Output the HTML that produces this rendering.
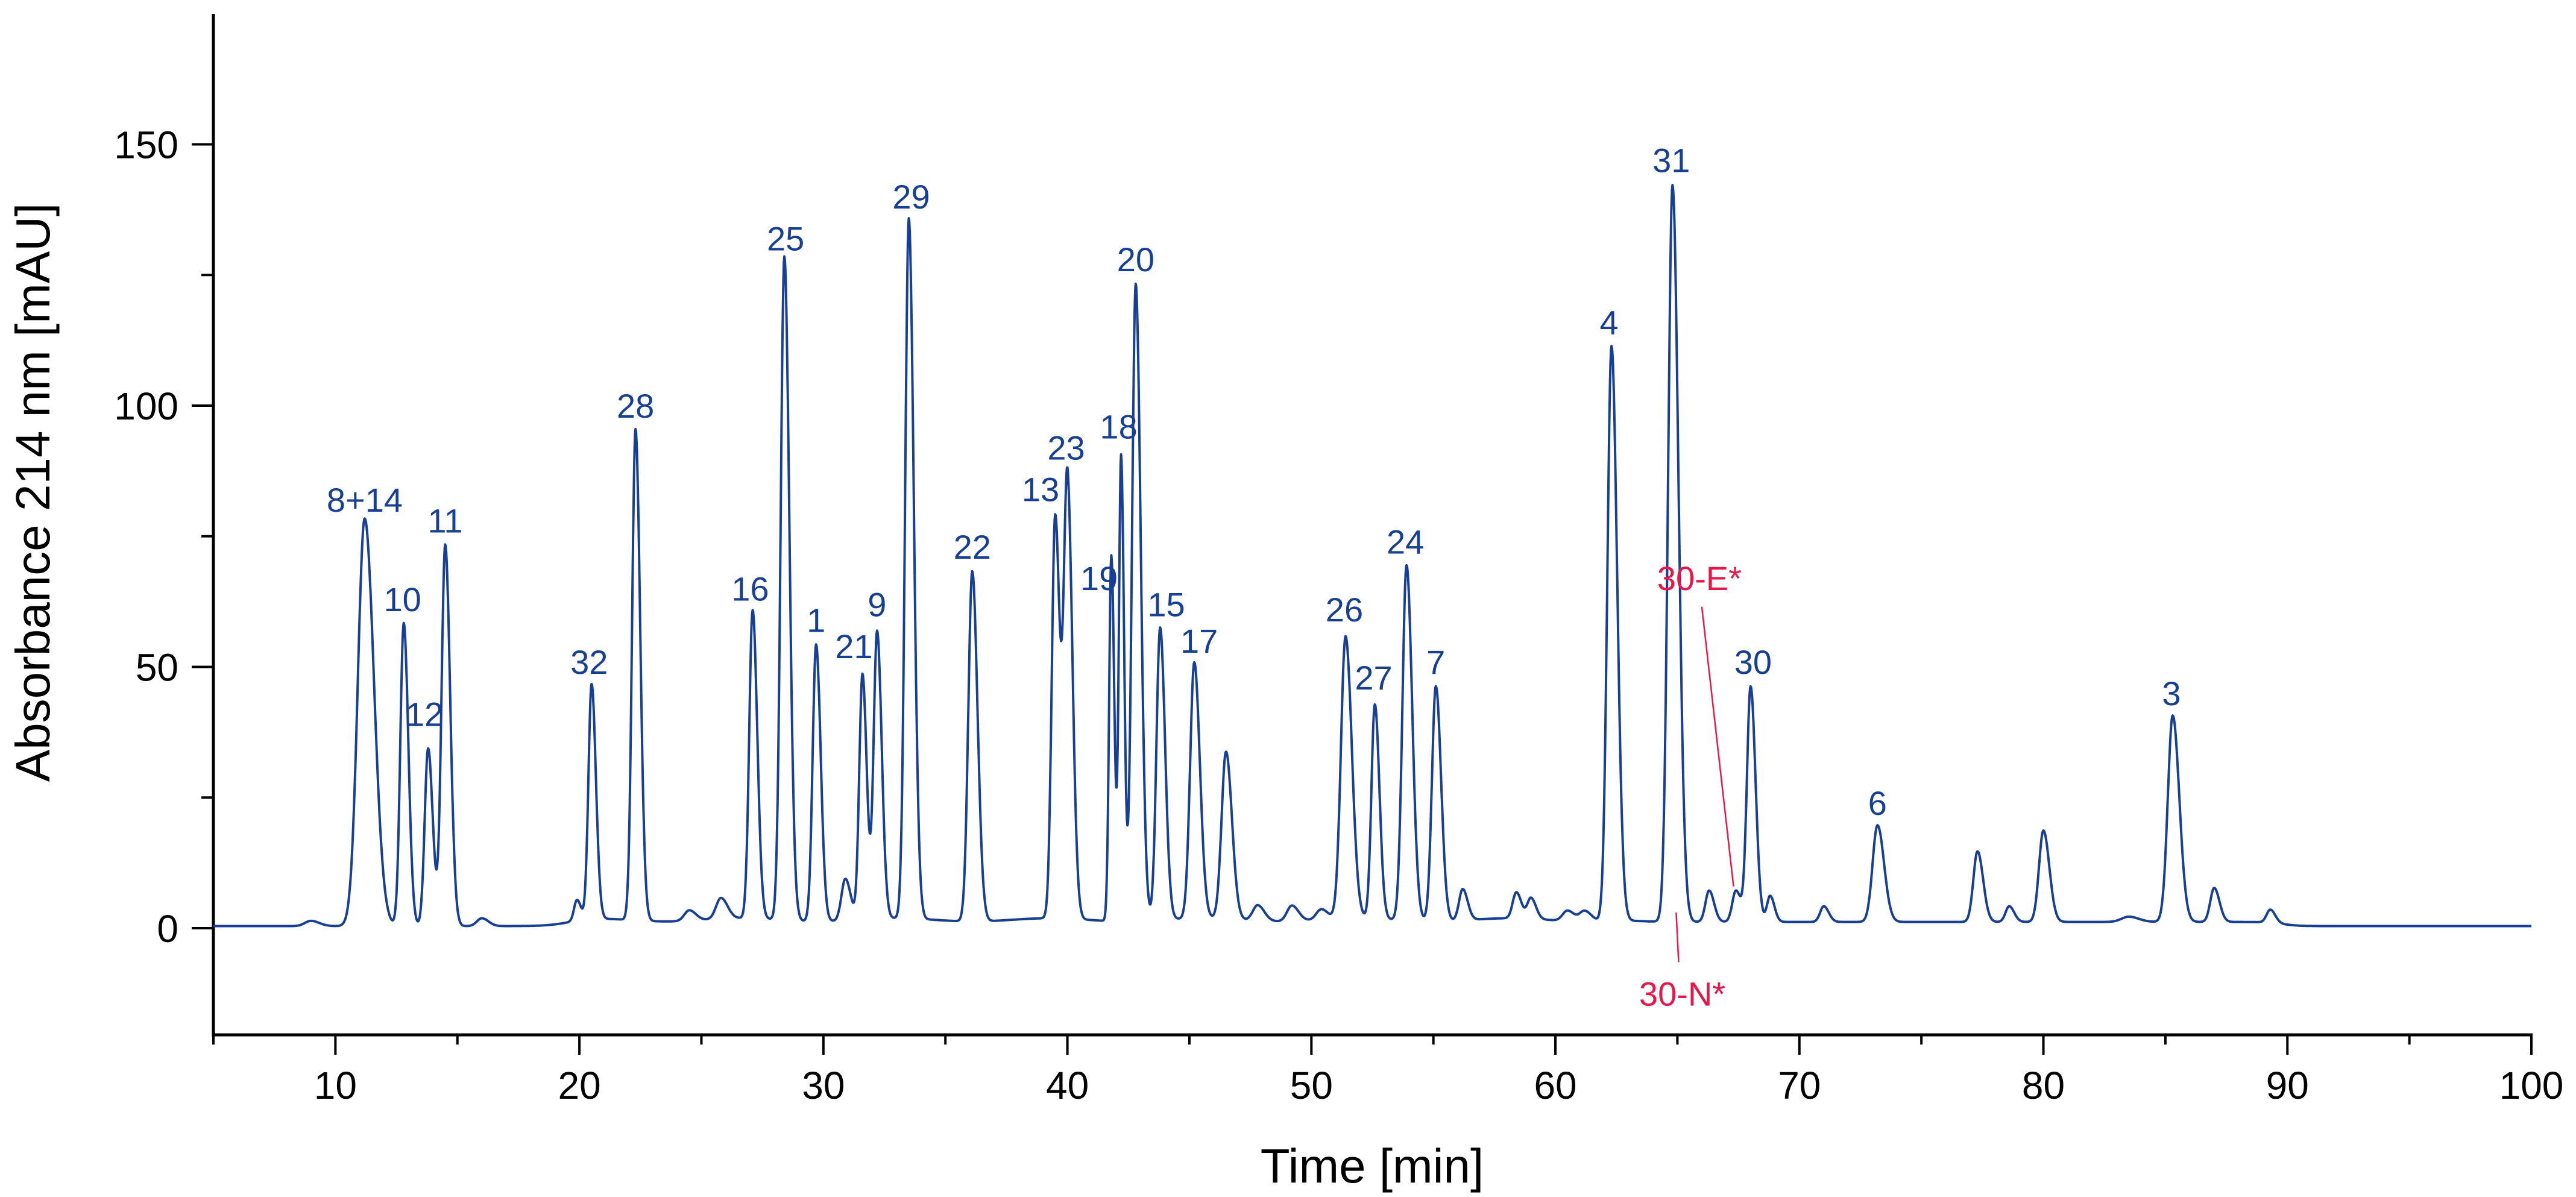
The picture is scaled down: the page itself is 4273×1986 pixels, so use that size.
<!DOCTYPE html>
<html><head><meta charset="utf-8"><style>
html,body{margin:0;padding:0;background:#fff;}
svg{display:block;font-family:"Liberation Sans",Arial,sans-serif;}
</style></head><body>
<svg id="chart" width="4273" height="1986" viewBox="0 0 4273 1986" xmlns="http://www.w3.org/2000/svg">
<g id="axes"></g>
<g id="plot"></g>
<g id="labels"></g>
<text x="0" y="0" transform="translate(82,817) rotate(-90)" text-anchor="middle" font-size="80" fill="#000">Absorbance 214 nm [mAU]</text>
<text x="2276" y="1962" text-anchor="middle" font-size="80" fill="#000">Time [min]</text>
</svg>
<script>
const peakTimes = [9.0,11.2,12.8,13.8,14.5,16.0,19.9,20.5,22.3,24.5,25.8,27.1,28.4,29.7,30.9,31.6,32.2,33.5,36.1,39.5,40.0,41.8,42.2,42.8,43.8,45.2,46.5,47.8,49.2,50.4,51.4,52.6,53.9,55.1,56.2,58.4,59.0,60.5,61.2,62.3,64.8,66.3,67.4,68.0,68.8,71.0,73.2,77.3,78.6,80.0,83.5,85.3,87.0,89.3];
const peakHeights = [1,78,58,34,73,1.5,4,45,94,2,4,59,127,53,8,47,55,134,67,77,84,70,89,122,56,49,32,3,3,2,54,41,68,45,6,5,4,2,2,110,141,6,6,45,5,3,18.5,13.5,3,17.5,1,39.5,6.5,2.5];
const peakWidths = [0.25,0.28,0.14,0.14,0.15,0.2,0.12,0.13,0.14,0.2,0.2,0.14,0.15,0.14,0.16,0.13,0.14,0.15,0.16,0.14,0.15,0.09,0.09,0.15,0.15,0.17,0.18,0.2,0.2,0.2,0.19,0.14,0.17,0.16,0.15,0.15,0.15,0.2,0.2,0.17,0.18,0.15,0.15,0.15,0.13,0.15,0.2,0.17,0.15,0.18,0.3,0.2,0.16,0.15];
const labelTexts = ["8+14","10","12","11","32","28","16","25","1","21","9","29","22","13","23","19","18","20","15","17","26","27","24","7","4","31","30","6","3"];
const labelTimes = [11.2,12.75,13.65,14.5,20.4,22.3,27.0,28.45,29.7,31.25,32.2,33.6,36.1,38.9,39.95,41.3,42.1,42.8,44.05,45.4,51.35,52.55,53.85,55.1,62.2,64.75,68.1,73.2,85.25];
const labelValues = [82,63,41,78,51,100,65,132,59,54,62,140,73,84,92,67,96,128,62,55,61,48,74,51,116,147,51,24,45];

const X0=354, X1=4199, Y0=1540, PXU=8.67;
const xs = t => X0 + (t-5)*(X1-X0)/95;
const ys = v => Y0 - v*PXU;
const NS="http://www.w3.org/2000/svg";
function mk(tag, attrs, parent){const e=document.createElementNS(NS,tag);for(const k in attrs)e.setAttribute(k,attrs[k]);parent.appendChild(e);return e;}

const axes=document.getElementById('axes');
let yl=mk('line',{x1:X0,y1:23,x2:X0,y2:1720,stroke:'#000','stroke-width':5},axes);


const yTicks=[0,50,100,150];
yTicks.forEach(v=>{
  const l=mk('line',{x1:X0-36,y1:ys(v),x2:X0,y2:ys(v),stroke:'#000','stroke-width':4},axes);
  
  
  const t=mk('text',{x:X0-58,y:ys(v)+23,'text-anchor':'end','font-size':64,fill:'#000'},axes);
  t.textContent=v;
  
  
});
[25,75,125].forEach(v=>{
  const l=mk('line',{x1:X0-20,y1:ys(v),x2:X0,y2:ys(v),stroke:'#000','stroke-width':4},axes);
  
  
});
let xl=mk('line',{x1:X0-2,y1:1717,x2:X1+2,y2:1717,stroke:'#000','stroke-width':5},axes);


const xTicks=[10,20,30,40,50,60,70,80,90,100];
xTicks.forEach(v=>{
  const l=mk('line',{x1:xs(v),y1:1717,x2:xs(v),y2:1750,stroke:'#000','stroke-width':4},axes);
  
  
  const t=mk('text',{x:xs(v),y:1823,'text-anchor':'middle','font-size':64,fill:'#000'},axes);
  t.textContent=v;
  
  
});
[5,15,25,35,45,55,65,75,85,95].forEach(v=>{
  const l=mk('line',{x1:xs(v),y1:1717,x2:xs(v),y2:1733,stroke:'#000','stroke-width':4},axes);
  
  
});

function sig(x){return 1/(1+Math.exp(-x));}
function baseline(t){
  return 0.4 + 1.2*sig((t-19.5)*2)*(1-sig((t-63)*2)) + 0.8*sig((t-63)*2)*(1-sig((t-89.8)*3)) + 0.3*Math.sin(t)*sig((t-19.5)*2)*(1-sig((t-63)*2));
}
let d='';
for(let t=5;t<=100.0001;t+=0.02){
  let v=baseline(t);
  for(let i=0;i<peakTimes.length;i++){
    const dt=t-peakTimes[i];
    const s=peakWidths[i]*(dt>0?1.35:1);
    if(Math.abs(dt)<8*s) v+=peakHeights[i]*Math.exp(-dt*dt/(2*s*s));
  }
  d+=(d?'L':'M')+xs(t).toFixed(1)+','+ys(v).toFixed(1);
}
const plot=document.getElementById('plot');
const p=mk('path',{d:d,fill:'none',stroke:'#173f94','stroke-width':4,'stroke-linejoin':'round'},plot);



const labels=document.getElementById('labels');
labelTexts.forEach((s,i)=>{
  const t=mk('text',{x:xs(labelTimes[i]),y:ys(labelValues[i])+20,'text-anchor':'middle','font-size':56,fill:'#173f94'},labels);
  t.textContent=s;
  
  
});
const e1=mk('text',{x:xs(65.9),y:ys(67)+20,'text-anchor':'middle','font-size':56,fill:'#e8174a'},labels);
e1.textContent='30-E*';


const l1=mk('line',{x1:xs(66.0),y1:ys(61.5),x2:xs(67.3),y2:ys(8),stroke:'#e8174a','stroke-width':2.5},labels);


const e2=mk('text',{x:xs(65.2),y:ys(-12.5)+20,'text-anchor':'middle','font-size':56,fill:'#e8174a'},labels);
e2.textContent='30-N*';


const l2=mk('line',{x1:xs(64.95),y1:ys(3),x2:xs(65.05),y2:ys(-6.5),stroke:'#e8174a','stroke-width':2.5},labels);


</script>
</body></html>
